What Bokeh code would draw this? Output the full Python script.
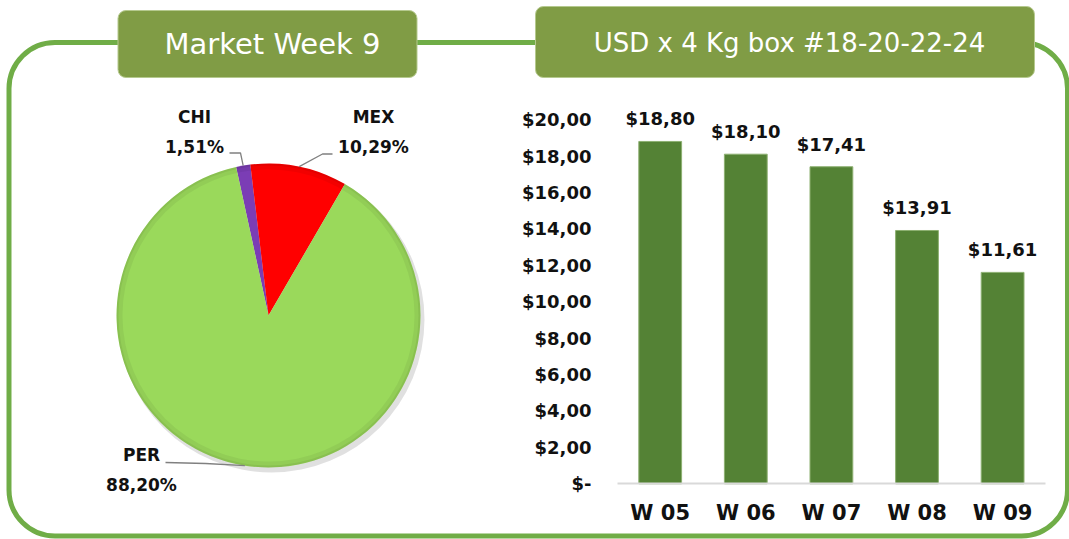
import numpy as np
from bokeh.plotting import figure
from bokeh.models import Range1d, LinearAxis, FixedTicker, BoxAnnotation, Label
from bokeh.core.properties import value
from bokeh.embed import file_html
from bokeh.resources import INLINE

# ---------------- data ----------------
pie_countries = ["CHI", "MEX", "PER"]
pie_shares = [1.51, 10.29, 88.20]
pie_colors = ["#7B3DB5", "#FF0000", "#9AD95B"]

weeks = ["W 05", "W 06", "W 07", "W 08", "W 09"]
prices = [18.80, 18.10, 17.41, 13.91, 11.61]

y_ticks = [0, 2, 4, 6, 8, 10, 12, 14, 16, 18, 20]
y_tick_labels = ["$-", "$2,00", "$4,00", "$6,00", "$8,00", "$10,00",
                 "$12,00", "$14,00", "$16,00", "$18,00", "$20,00"]

title_left = "Market Week 9"
title_right = "USD x 4 Kg box #18-20-22-24"

# ---------------- layout (page pixel space) ----------------
W, H = 1069, 539
def Y(y):               # page y (downwards) -> data y (upwards)
    return H - y

FONT = "DejaVu Sans"
TXT = "#111111"

p = figure(width=W, height=H, x_range=Range1d(0, W), y_range=Range1d(0, H),
           output_backend="svg", toolbar_location=None,
           x_axis_type=None, y_axis_type=None, min_border=0,
           outline_line_color=None, background_fill_color="white")

# bar chart scales (mapped onto the right part of the canvas)
BAR0_X, BAR_STEP = 659.7, 85.6
BASE_Y, PX_PER_UNIT = 483.3, 18.21
p.extra_x_ranges = {"bar": Range1d((0 - BAR0_X) / BAR_STEP, (W - BAR0_X) / BAR_STEP)}
p.extra_y_ranges = {"bar": Range1d((BASE_Y - H) / PX_PER_UNIT, (BASE_Y - 0) / PX_PER_UNIT)}

idx = list(range(len(weeks)))
p.vbar(x=idx, top=prices, bottom=0, width=0.5, x_range_name="bar", y_range_name="bar",
       fill_color="#548235", line_color="#8DB071", line_width=1)

bar_labels = ["$" + f"{v:.2f}".replace(".", ",") for v in prices]
p.text(x=idx, y=[v + 1.24 for v in prices], text=bar_labels,
       x_range_name="bar", y_range_name="bar",
       text_align="center", text_baseline="middle",
       text_font=value(FONT), text_font_style="bold", text_font_size="18px",
       text_color=TXT)

yax = LinearAxis(y_range_name="bar", fixed_location=598,
                 ticker=FixedTicker(ticks=y_ticks),
                 major_label_overrides=dict(zip(y_ticks, y_tick_labels)),
                 axis_line_color=None, major_tick_line_color=None,
                 minor_tick_line_color=None, major_tick_out=0, major_tick_in=0,
                 major_label_standoff=7,
                 major_label_text_font=FONT, major_label_text_font_style="bold",
                 major_label_text_font_size="18px", major_label_text_color=TXT)
p.add_layout(yax, "left")

xax = LinearAxis(x_range_name="bar", y_range_name="bar", fixed_location=0,
                 bounds=(-0.5, len(weeks) - 0.5),
                 ticker=FixedTicker(ticks=idx),
                 major_label_overrides={i: w for i, w in zip(idx, weeks)},
                 axis_line_color="#D9D9D9", axis_line_width=2,
                 major_tick_line_color=None, minor_tick_line_color=None,
                 major_tick_out=0, major_tick_in=0, major_label_standoff=17,
                 major_label_text_font=FONT, major_label_text_font_style="bold",
                 major_label_text_font_size="21px", major_label_text_color=TXT)
p.add_layout(xax, "below")

# ---------------- pie ----------------
CX, CY_IMG, R = 268, 315, 152
CY = Y(CY_IMG)
ROT = -12.3   # degrees clockwise from 12 o'clock where the first slice starts
fr = np.array(pie_shares) / np.sum(pie_shares)
cum = np.concatenate([[0.0], np.cumsum(fr)])
th_s = ROT + 360 * cum[:-1]
th_e = ROT + 360 * cum[1:]
th_m = (th_s + th_e) / 2

p.circle(x=CX + 3, y=CY - 4, radius=R + 1, fill_color="#000000", fill_alpha=0.12, line_color=None)
p.wedge(x=CX, y=CY, radius=R,
        start_angle=list(np.radians(90 - th_s)), end_angle=list(np.radians(90 - th_e)),
        direction="clock", fill_color=pie_colors, line_color=None)
p.annulus(x=CX, y=CY, inner_radius=R - 6, outer_radius=R, fill_color="#000000",
          fill_alpha=0.05, line_color=None)
p.annulus(x=CX, y=CY, inner_radius=R - 2, outer_radius=R, fill_color="#000000",
          fill_alpha=0.06, line_color=None)

# leader lines: elbow points (page coords) -> slice mid-angle on rim
elbows = [[(229, 152.5), (240, 152.5)], [(332, 153.5), (322, 153.5)], [(165, 462), (205, 463)]]
xs, ys = [], []
for (pts, t) in zip(elbows, th_m):
    ex = CX + R * np.sin(np.radians(t))
    ey = CY + R * np.cos(np.radians(t))
    xs.append([pts[0][0], pts[1][0], ex])
    ys.append([Y(pts[0][1]), Y(pts[1][1]), ey])
p.multi_line(xs=xs, ys=ys, line_color="#808080", line_width=1.3)

name_pos = [(194, 116), (373, 116), (141, 454)]
PCT_GAP = 30
pct_labels = [f"{s:.2f}".replace(".", ",") + "%" for s in pie_shares]
p.text(x=[q[0] for q in name_pos], y=[Y(q[1]) for q in name_pos], text=pie_countries,
       text_align="center", text_baseline="middle", text_font=value(FONT),
       text_font_style="bold", text_font_size="17px", text_color=TXT)
p.text(x=[q[0] for q in name_pos], y=[Y(q[1] + PCT_GAP) for q in name_pos], text=pct_labels,
       text_align="center", text_baseline="middle", text_font=value(FONT),
       text_font_style="bold", text_font_size="17px", text_color=TXT)

# ---------------- frame and title tabs ----------------
p.add_layout(BoxAnnotation(left=8.5, right=1067, top=Y(42), bottom=Y(535.5),
                           fill_color=None, fill_alpha=0, line_color="#70AD47",
                           line_alpha=1, line_width=5, border_radius=46))
p.add_layout(BoxAnnotation(left=117.5, right=416.5, top=Y(10), bottom=Y(77),
                           fill_color="#809C45", fill_alpha=1, line_color="#B5C98E",
                           line_alpha=1, line_width=1, border_radius=8))
p.add_layout(BoxAnnotation(left=535, right=1034, top=Y(6), bottom=Y(77),
                           fill_color="#809C45", fill_alpha=1, line_color="#B5C98E",
                           line_alpha=1, line_width=1, border_radius=8))
p.add_layout(Label(x=272, y=Y(43), text=title_left, text_align="center",
                   text_baseline="middle", text_color="white", text_font=FONT,
                   text_font_size="29px"))
p.add_layout(Label(x=789, y=Y(42), text=title_right, text_align="center",
                   text_baseline="middle", text_color="white", text_font=FONT,
                   text_font_size="26px"))

open("out.html", "w").write(file_html(p, INLINE))
